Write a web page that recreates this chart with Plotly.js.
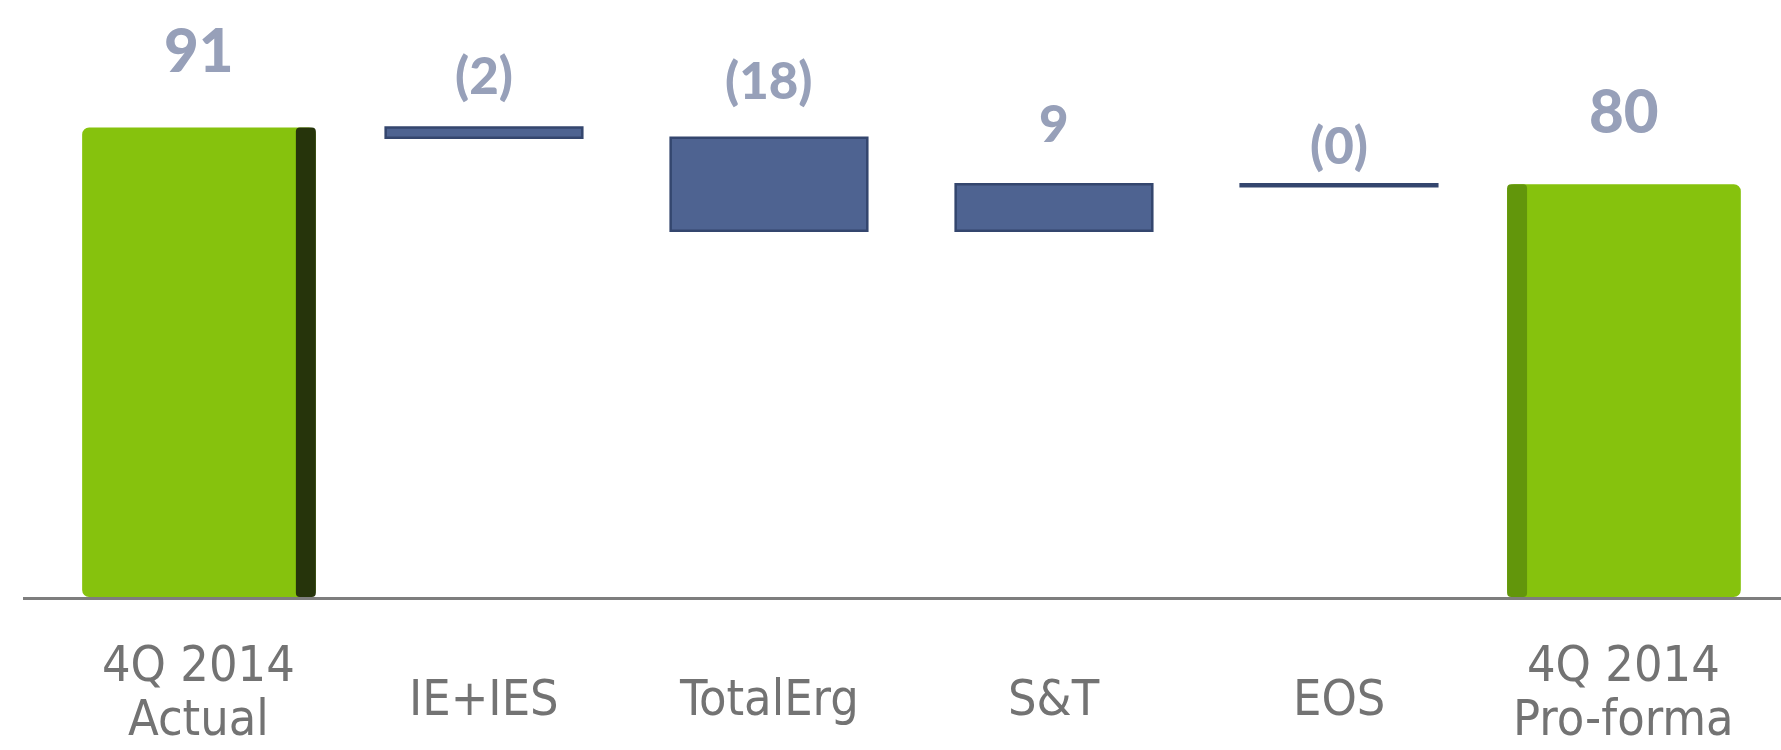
<!DOCTYPE html>
<html>
<head>
<meta charset="utf-8">
<script src="https://cdn.plot.ly/plotly-3.0.1.min.js"></script>
<style>
  html, body { margin: 0; padding: 0; background: #ffffff; }
  #chart { width: 1781px; height: 750px; }
</style>
</head>
<body>
<div id="chart"></div>
<script>
// ---- data ----
const categories = ['4Q 2014<br>Actual', 'IE+IES', 'TotalErg', 'S&T', 'EOS', '4Q 2014<br>Pro-forma'];
const values = [91, -2, -18, 9, -0.4, 80];
const measures = ['total', 'relative', 'relative', 'relative', 'relative', 'total'];
const valueLabels = ['91', '(2)', '(18)', '9', '(0)', '80'];

// ---- derive bar bases ----
const bases = [];
let running = 0;
values.forEach((v, i) => {
  if (measures[i] === 'total') { bases.push(0); running = v; }
  else { bases.push(running); running += v; }
});
const tops = values.map((v, i) => Math.max(bases[i], bases[i] + v));

const totIdx = [], relIdx = [];
measures.forEach((m, i) => (m === 'total' ? totIdx : relIdx).push(i));
const pick = (arr, idx) => idx.map(i => arr[i]);

// ---- styling ----
const GREEN = '#86C20D';
const BLUE = '#4E6391';
const LABEL = '#97A0B9';
const CAT = '#737373';
const labelLift = [78, 53, 58, 62, 40, 74];

const traces = [
  {
    type: 'bar', x: pick(categories, totIdx), y: pick(values, totIdx), base: pick(bases, totIdx),
    width: 0.82, marker: { color: GREEN, line: { width: 0 }, cornerradius: 7 }, hoverinfo: 'skip'
  },
  {
    type: 'bar', x: pick(categories, totIdx), y: pick(values, totIdx), base: pick(bases, totIdx),
    width: 0.07,
    offset: totIdx.map((i, k) => (k === 0 ? 0.34 : -0.41)),
    marker: { color: totIdx.map((i, k) => (k === 0 ? '#26340B' : '#62960B')), line: { width: 0 }, cornerradius: 4 },
    hoverinfo: 'skip'
  },
  {
    type: 'bar', x: pick(categories, relIdx), y: pick(values, relIdx), base: pick(bases, relIdx),
    width: 0.69, marker: { color: BLUE, line: { color: '#34466E', width: 2.5 } }, hoverinfo: 'skip'
  }
];

const annotations = [];
categories.forEach((c, i) => {
  const isTotal = measures[i] === 'total';
  annotations.push({
    x: c, y: tops[i], xref: 'x', yref: 'y', text: valueLabels[i], showarrow: false,
    yanchor: 'middle', yshift: labelLift[i],
    font: { family: 'Lato, "Open Sans", sans-serif', size: isTotal ? 60 : 51, color: LABEL, weight: 900 }
  });
  const lines = c.split('<br>');
  lines.forEach((ln, j) => {
    const center = lines.length === 1 ? -101 : (j === 0 ? -67 : -121);
    annotations.push({
      x: c, y: 0, xref: 'x', yref: 'paper', text: ln, showarrow: false,
      yanchor: 'middle', yshift: center,
      font: { family: '"Liberation Sans Narrow", "DejaVu Sans Condensed", Lato, sans-serif', size: 50, color: CAT }
    });
  });
});

const layout = {
  width: 1781, height: 750,
  margin: { l: 23, r: 0, t: 0, b: 153 },
  paper_bgcolor: '#ffffff', plot_bgcolor: '#ffffff',
  showlegend: false,
  barmode: 'overlay',
  xaxis: {
    type: 'category', categoryorder: 'array', categoryarray: categories,
    range: [-0.6175, 5.551], showticklabels: false, ticks: '',
    showgrid: false, zeroline: false, showline: true, linecolor: '#7E7E7E', linewidth: 3
  },
  yaxis: {
    range: [0, 115.7], visible: false, showgrid: false, zeroline: false
  },
  annotations: annotations
};

Plotly.newPlot('chart', traces, layout, { staticPlot: true, displayModeBar: false });
</script>
</body>
</html>
